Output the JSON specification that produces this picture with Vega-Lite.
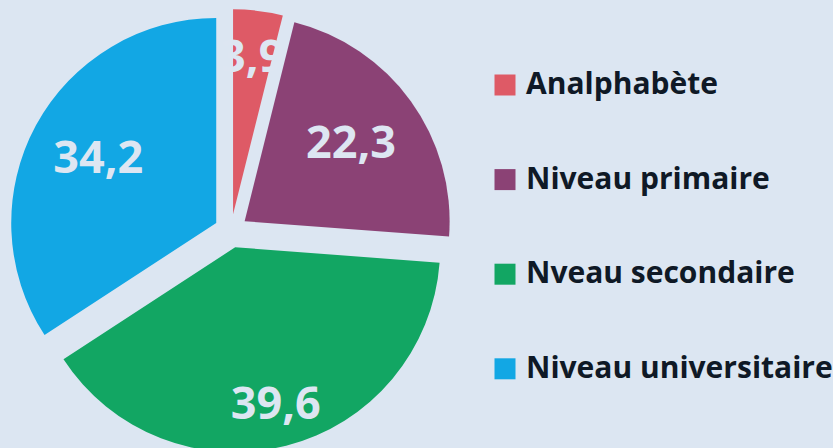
{
  "$schema": "https://vega.github.io/schema/vega-lite/v6.json",
  "width": 462,
  "height": 462,
  "padding": 0,
  "autosize": {"type": "pad"},
  "background": "#dce6f2",
  "config": {"view": {"stroke": null}},
  "data": {
    "values": [
      {"niveau": "Analphabète", "pct": 3.9, "ordre": 1, "label": "3,9"},
      {"niveau": "Niveau primaire", "pct": 22.3, "ordre": 2, "label": "22,3"},
      {"niveau": "Nveau secondaire", "pct": 39.6, "ordre": 3, "label": "39,6"},
      {"niveau": "Niveau universitaire", "pct": 34.2, "ordre": 4, "label": "34,2"}
    ]
  },
  "encoding": {
    "theta": {"field": "pct", "type": "quantitative", "stack": true},
    "order": {"field": "ordre", "type": "quantitative"}
  },
  "layer": [
    {
      "mark": {
        "type": "arc",
        "outerRadius": 205,
        "xOffset": {"expr": "16.8*sin(PI*(datum.pct_start+datum.pct_end)/100)"},
        "yOffset": {"expr": "-16.8*cos(PI*(datum.pct_start+datum.pct_end)/100)"}
      },
      "encoding": {
        "color": {
          "field": "niveau",
          "type": "nominal",
          "scale": {
            "domain": ["Analphabète", "Niveau primaire", "Nveau secondaire", "Niveau universitaire"],
            "range": ["#de5a66", "#8b4275", "#12a663", "#12a7e4"]
          },
          "legend": {
            "title": null,
            "orient": "none",
            "legendX": 490,
            "legendY": 70,
            "direction": "vertical",
            "symbolType": "square",
            "symbolSize": 441,
            "symbolStrokeWidth": 0,
            "labelFont": "Open Sans",
            "labelFontWeight": "bold",
            "labelFontSize": 30,
            "labelColor": "#0f1926",
            "labelOffset": 6,
            "labelLimit": 400,
            "rowPadding": 64.6
          }
        }
      }
    },
    {
      "mark": {
        "type": "text",
        "font": "Open Sans",
        "fontWeight": "bold",
        "fontSize": 45,
        "color": "#dde6f2",
        "baseline": "middle",
        "align": "center",
        "radius": {"expr": "[174, 148, 180, 151][datum.ordre - 1]"}
      },
      "encoding": {
        "text": {"field": "label", "type": "nominal"}
      }
    }
  ]
}
